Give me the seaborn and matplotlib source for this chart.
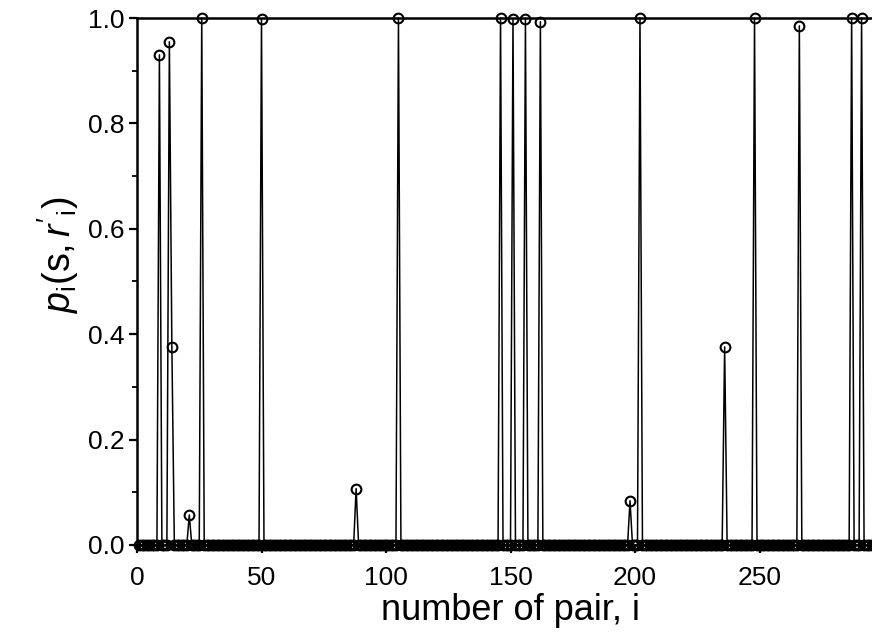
import numpy as np
import pandas as pd
import matplotlib
matplotlib.use("Agg")
import matplotlib.pyplot as plt
import seaborn as sns
from matplotlib.ticker import MultipleLocator

# ---- data ----
n_pairs = 300
spike_index = [9, 13, 14, 21, 26, 50, 88, 105, 146, 151, 156, 162, 198, 202, 236, 248, 266, 287, 291]
spike_value = [0.93, 0.955, 0.376, 0.057, 1.0, 0.998, 0.107, 1.0, 1.0, 0.999, 0.998, 0.993,
               0.084, 1.0, 0.376, 1.0, 0.985, 1.0, 1.0]
x_ticks = [0, 50, 100, 150, 200, 250]
y_ticks = [0.0, 0.2, 0.4, 0.6, 0.8, 1.0]

pair = np.arange(1, n_pairs + 1)
prob = np.zeros(n_pairs)
for i, v in zip(spike_index, spike_value):
    prob[i - 1] = v
df = pd.DataFrame({"pair": pair, "p": prob})

# ---- style ----
sns.set_style("ticks")
plt.rcParams["font.family"] = ["Liberation Sans", "DejaVu Sans"]
plt.rcParams["mathtext.fontset"] = "custom"
plt.rcParams["mathtext.rm"] = "Liberation Sans"
plt.rcParams["mathtext.it"] = "Liberation Sans:italic"
plt.rcParams["text.color"] = "black"
plt.rcParams["axes.labelcolor"] = "black"
plt.rcParams["xtick.color"] = "black"
plt.rcParams["ytick.color"] = "black"

fig = plt.figure(figsize=(8.72, 6.33), dpi=100)
ax = fig.add_axes([137 / 872, 88 / 633, 300 * 2.49 / 872, 527 / 633])

sns.lineplot(data=df, x="pair", y="p", ax=ax, color="black", linewidth=1.1,
             marker="o", markersize=7, markerfacecolor="none",
             markeredgecolor="black", markeredgewidth=1.5, clip_on=False)

ax.set_xlim(0, 300)
ax.set_ylim(0, 1.0)
ax.set_xticks(x_ticks)
ax.set_yticks(y_ticks)
ax.set_yticklabels([f"{t:.1f}" for t in y_ticks])
ax.xaxis.set_minor_locator(MultipleLocator(25))
ax.yaxis.set_minor_locator(MultipleLocator(0.1))

for s in ax.spines.values():
    s.set_linewidth(1.8)
    s.set_color("black")
ax.spines["right"].set_visible(False)

ax.tick_params(axis="both", which="major", direction="out", length=6, width=1.6,
               labelsize=19)
ax.tick_params(axis="x", which="major", pad=9)
ax.tick_params(axis="y", which="major", pad=3)
ax.tick_params(axis="both", which="minor", direction="out", length=3.5, width=1.3)

ax.set_xlabel("number of pair, i", fontsize=26)
ax.set_ylabel(r"$p_{\rm i}({\rm s},r'_{\rm i})$", fontsize=27)
ax.xaxis.set_label_coords(0.5, -0.092)
ax.yaxis.set_label_coords(-0.075, 0.55)

fig.savefig("out.png", dpi=100)
